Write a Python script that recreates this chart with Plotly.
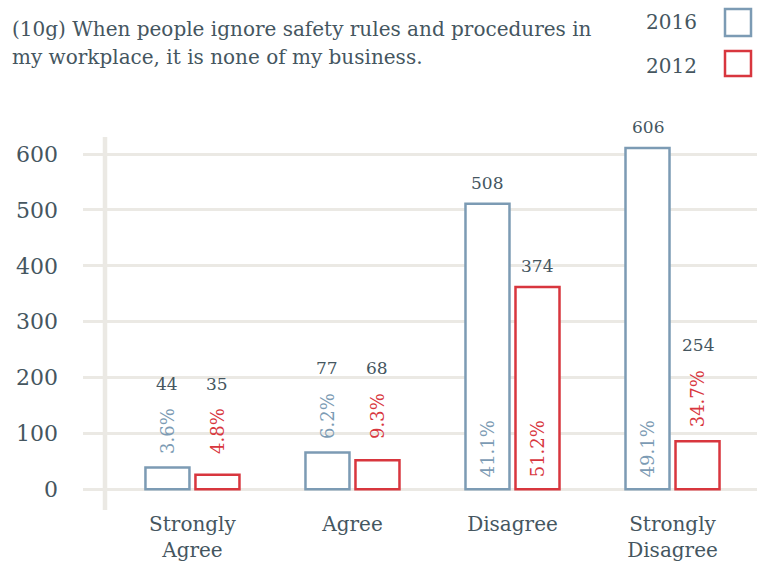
import plotly.graph_objects as go

categories = ["Strongly<br>Agree", "Agree", "Disagree", "Strongly<br>Disagree"]
bar_2016 = [39, 66, 511, 611]
bar_2012 = [26, 52, 362, 86]
count_2016 = [44, 77, 508, 606]
count_2012 = [35, 68, 374, 254]
pct_2016 = ["3.6%", "6.2%", "41.1%", "49.1%"]
pct_2012 = ["4.8%", "9.3%", "51.2%", "34.7%"]
title_lines = ["(10g) When people ignore safety rules and procedures in",
               "my workplace, it is none of my business."]

BLUE = "#7c9bb4"
RED = "#d8363e"
DARK = "#45565f"
GRID = "#ebe9e4"
FONT = "DejaVu Serif"
THRESH = 200

fig = go.Figure()
fig.add_trace(go.Bar(x=categories, y=bar_2016, name="2016",
                     marker=dict(color="white", line=dict(color=BLUE, width=2.5))))
fig.add_trace(go.Bar(x=categories, y=bar_2012, name="2012",
                     marker=dict(color="white", line=dict(color=RED, width=2.5))))

annotations = []
for i, cat in enumerate(categories):
    outside_vals = [v for v in (bar_2016[i], bar_2012[i]) if v <= THRESH]
    group_top = max(outside_vals) if outside_vals else 0
    for vals, counts, pcts, color, shift in [(bar_2016, count_2016, pct_2016, BLUE, -25),
                                             (bar_2012, count_2012, pct_2012, RED, 25)]:
        v, c, p = vals[i], counts[i], pcts[i]
        if v > THRESH:
            annotations.append(dict(x=cat, y=0, xshift=shift, yshift=10, text=p, textangle=-90,
                                    yanchor="bottom", xanchor="center", showarrow=False,
                                    font=dict(family=FONT, size=18, color=color)))
            annotations.append(dict(x=cat, y=v, xshift=shift, yshift=9, text=str(c),
                                    yanchor="bottom", xanchor="center", showarrow=False,
                                    font=dict(family=FONT, size=17, color=DARK)))
        else:
            annotations.append(dict(x=cat, y=group_top, xshift=shift, yshift=12, text=p, textangle=-90,
                                    yanchor="bottom", xanchor="center", showarrow=False,
                                    font=dict(family=FONT, size=18, color=color)))
            annotations.append(dict(x=cat, y=group_top, xshift=shift, yshift=12 + 12 * len(p) + 12,
                                    text=str(c), yanchor="bottom", xanchor="center", showarrow=False,
                                    font=dict(family=FONT, size=17, color=DARK)))

# title
for k, (line, yc) in enumerate(zip(title_lines, [29, 57])):
    annotations.append(dict(xref="paper", yref="paper", x=-73/674, y=1 + (137 - yc) / 373, text=line,
                            xanchor="left", yanchor="middle", align="left", showarrow=False,
                            font=dict(family=FONT, size=20, color=DARK)))
# legend texts
annotations.append(dict(xref="paper", yref="paper", x=(699 - 83) / 674, y=1 + (137 - 22) / 373, text="2016",
                        xanchor="right", yanchor="middle", showarrow=False,
                        font=dict(family=FONT, size=20, color=DARK)))
annotations.append(dict(xref="paper", yref="paper", x=(699 - 83) / 674, y=1 + (137 - 66) / 373, text="2012",
                        xanchor="right", yanchor="middle", showarrow=False,
                        font=dict(family=FONT, size=20, color=DARK)))

shapes = [
    dict(type="line", xref="paper", yref="paper", x0=22/674, x1=22/674, y0=0, y1=1,
         line=dict(color=GRID, width=4.5), layer="below"),
    dict(type="rect", xref="paper", yref="paper", x0=(725 - 83) / 674, x1=(751 - 83) / 674,
         y0=1 + (137 - 9) / 373, y1=1 + (137 - 36) / 373, line=dict(color=BLUE, width=2.5)),
    dict(type="rect", xref="paper", yref="paper", x0=(725 - 83) / 674, x1=(751 - 83) / 674,
         y0=1 + (137 - 51) / 373, y1=1 + (137 - 76) / 373, line=dict(color=RED, width=2.5)),
]

fig.update_layout(
    width=757, height=561,
    margin=dict(l=83, r=0, t=137, b=51),
    paper_bgcolor="white", plot_bgcolor="white",
    barmode="group", bargap=0.375, bargroupgap=0.12,
    showlegend=False,
    annotations=annotations,
    shapes=shapes,
    xaxis=dict(range=[-0.684, 3.528], showgrid=False, zeroline=False, showline=False, ticks="",
               tickfont=dict(family=FONT, size=20, color=DARK)),
    yaxis=dict(range=[-37, 630.5], tickvals=[0, 100, 200, 300, 400, 500, 600],
               showgrid=True, gridcolor=GRID, gridwidth=3, zeroline=True, zerolinecolor=GRID,
               zerolinewidth=3, showline=False, ticks="", ticklabelstandoff=24,
               tickfont=dict(family=FONT, size=22, color=DARK)),
)

fig.write_html("out.html", config={"displayModeBar": False},
               post_script="document.body.style.margin='0';document.body.style.overflow='hidden';")
